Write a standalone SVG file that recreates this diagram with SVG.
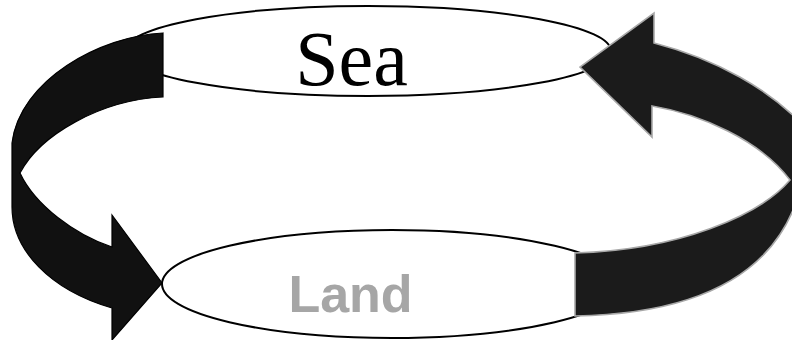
<svg xmlns="http://www.w3.org/2000/svg" width="792" height="340" viewBox="0 0 792 340">
  <style>
    .ell { fill: #ffffff; stroke: #000000; stroke-width: 2; }
    .sea { font-family: "Liberation Serif", "Times New Roman", serif; font-size: 78px; fill: #000000; }
    .land { font-family: "Liberation Sans", Arial, sans-serif; font-weight: bold; font-size: 52px; fill: #a6a6a6; }
    .arrowL { fill: #111111; stroke: #000000; stroke-width: 1.2; stroke-linejoin: miter; }
    .arrowR { fill: #1b1b1b; stroke: #a8a8a8; stroke-width: 1.6; stroke-linejoin: miter; }
  </style>
  <rect width="792" height="340" fill="#ffffff"/>
  <g id="sea">
    <ellipse class="ell" cx="368" cy="51" rx="243" ry="45"/>
    <text class="sea" x="351.5" y="85" text-anchor="middle">Sea</text>
  </g>
  <g id="land">
    <ellipse class="ell" cx="392" cy="284" rx="230" ry="54"/>
    <text class="land" x="350.5" y="312" text-anchor="middle">Land</text>
  </g>
  <g id="connectors">
    <path class="arrowL" d="M163,33 C100,36 20,80 12,143 L12,207 C12,250 50,290 112,308 L112,340 L162,283 L112,215 L112,247 C75,235 35,205 20,173 C40,135 100,100 163,97 Z"/>
    <path class="arrowR" d="M575,316 C690,314 775,280 800,190 L812,135 C772,88 712,58 654,43 L654,13 L580,67 L652,137 L652,106 C700,114 760,140 790,180 C760,215 680,250 575,253 Z"/>
  </g>
</svg>
